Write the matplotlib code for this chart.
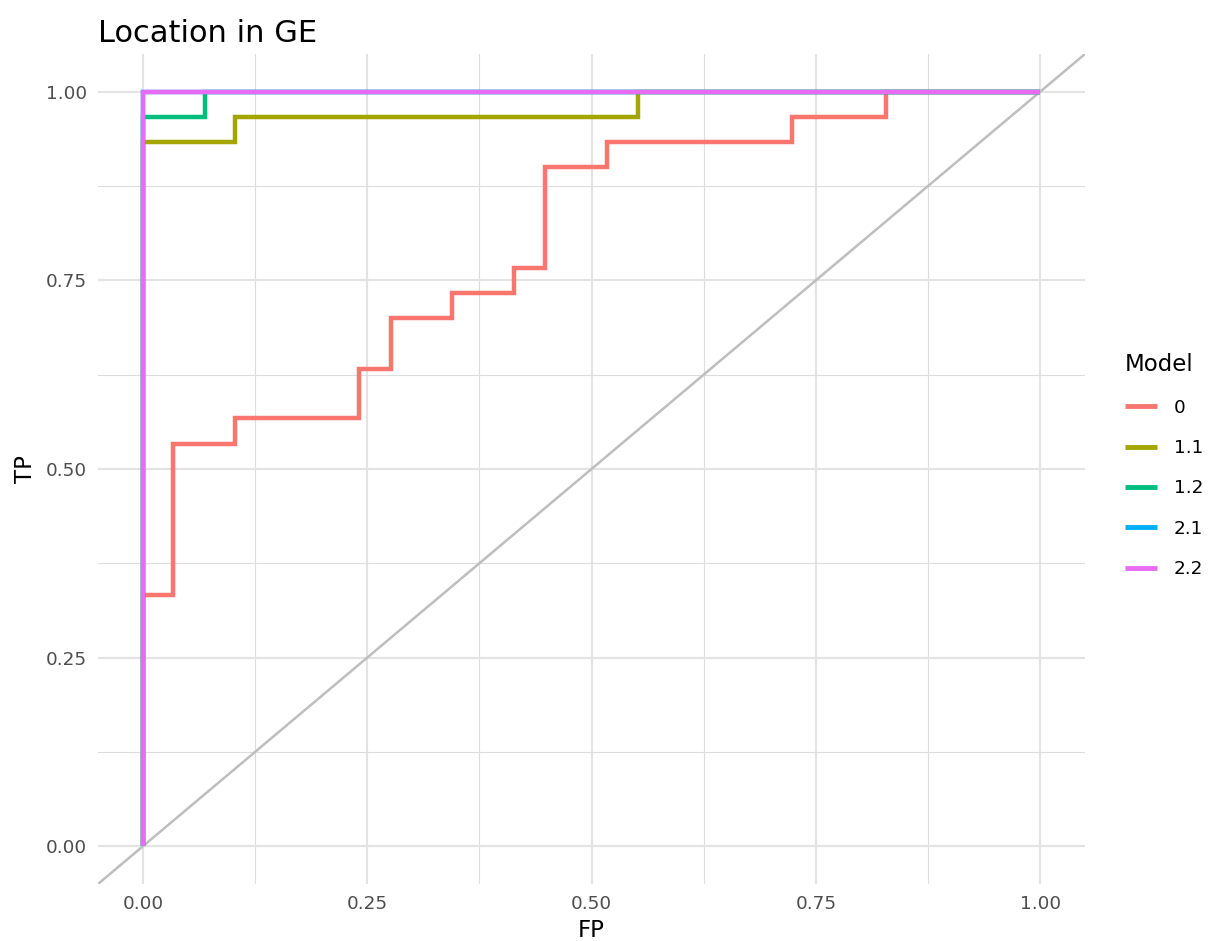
import matplotlib
matplotlib.use("Agg")
import matplotlib.pyplot as plt
import numpy as np

# ROC corner points per model (curve rises at each fp, then runs right)
models = ["0", "1.1", "1.2", "2.1", "2.2"]
fp_0 = [0, 0.034, 0.103, 0.241, 0.276, 0.345, 0.414, 0.448, 0.517, 0.724, 0.828, 1.0]
tp_0 = [0, 0.333, 0.533, 0.567, 0.633, 0.700, 0.733, 0.767, 0.900, 0.933, 0.967, 1.0]
fp_11 = [0, 0.103, 0.552, 1.0]
tp_11 = [0, 0.933, 0.967, 1.0]
fp_12 = [0, 0.069, 1.0]
tp_12 = [0, 0.967, 1.0]
fp_21 = [0, 1.0]
tp_21 = [0, 1.0]
fp_22 = [0, 1.0]
tp_22 = [0, 1.0]

ticks = [0.0, 0.25, 0.5, 0.75, 1.0]
tick_labels = ["0.00", "0.25", "0.50", "0.75", "1.00"]
colors = ["#F8766D", "#A3A500", "#00BF7D", "#00B0F6", "#E76BF3"]

fig = plt.figure(figsize=(12.14, 9.41), dpi=100)
ax = fig.add_axes([98 / 1214, 57 / 941, 987 / 1214, 830 / 941])

# diagonal reference line across the whole panel
ax.axline((0, 0), (1, 1), color="#BEBEBE", lw=1.8, zorder=2)

curves = [(fp_0, tp_0), (fp_11, tp_11), (fp_12, tp_12), (fp_21, tp_21), (fp_22, tp_22)]
for (fp, tp), m, c in zip(curves, models, colors):
    ax.plot(fp, tp, drawstyle="steps-pre", color=c, lw=3.2, label=m,
            solid_joinstyle="miter", solid_capstyle="butt", zorder=3)

ax.set_xlim(-0.05, 1.05)
ax.set_ylim(-0.05, 1.05)
ax.set_xticks(ticks)
ax.set_xticklabels(tick_labels)
ax.set_yticks(ticks)
ax.set_yticklabels(tick_labels)
ax.set_xticks(np.arange(0.125, 1.0, 0.25), minor=True)
ax.set_yticks(np.arange(0.125, 1.0, 0.25), minor=True)
ax.grid(which="major", color="#E3E3E3", lw=1.5, zorder=0)
ax.grid(which="minor", color="#DDDDDD", lw=0.8, zorder=0)
ax.set_axisbelow(True)
for s in ax.spines.values():
    s.set_visible(False)
ax.tick_params(which="both", length=0)
ax.tick_params(axis="both", labelsize=13.2, labelcolor="#4D4D4D", pad=8)

ax.set_xlabel("FP", fontsize=16.5, labelpad=4)
ax.set_ylabel("TP", fontsize=16.5, labelpad=6)
ax.set_title("Location in GE", loc="left", fontsize=22, pad=9)

leg = fig.legend(loc="center left", bbox_to_anchor=(1116 / 1214, 0.505),
                 title="Model", frameon=False, fontsize=13.2, title_fontsize=16.5,
                 handlelength=1.75, handletextpad=0.9, labelspacing=1.22,
                 borderpad=0, alignment="left")
for line in leg.get_lines():
    line.set_linewidth(3.5)

fig.savefig("out.png", dpi=100)
